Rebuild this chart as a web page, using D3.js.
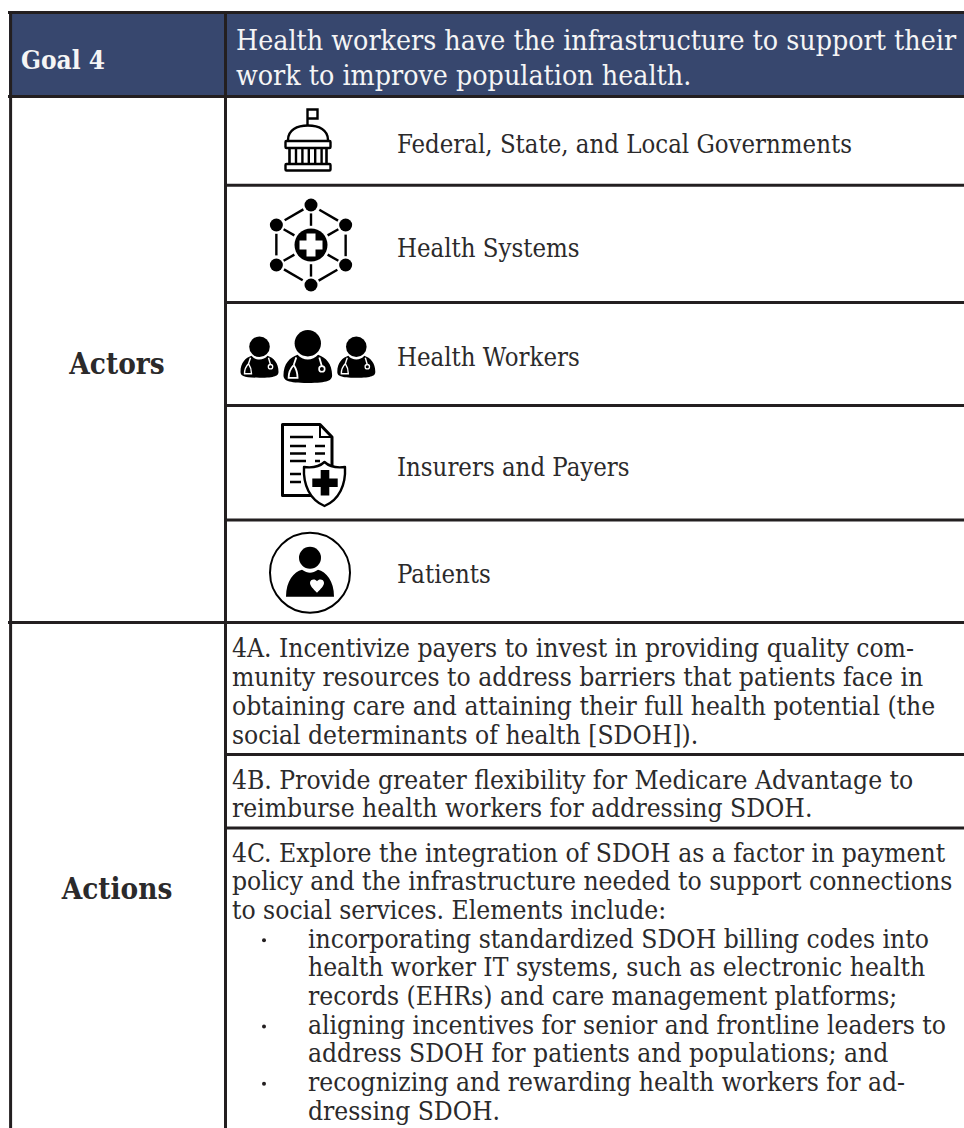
<!DOCTYPE html>
<html><head><meta charset="utf-8"><style>html,body{margin:0;background:#fff}svg{display:block}</style>
<script src="https://cdnjs.cloudflare.com/ajax/libs/d3/7.8.5/d3.min.js"></script></head><body><div id="c"></div>
<script>
const goalLabel = "Goal 4";
const goalText = ["Health workers have the infrastructure to support their","work to improve population health."];
const actors = ["Federal, State, and Local Governments","Health Systems","Health Workers","Insurers and Payers","Patients"];
const sectionLabels = ["Actors","Actions"];
const actionA = ["4A. Incentivize payers to invest in providing quality com-","munity resources to address barriers that patients face in","obtaining care and attaining their full health potential (the","social determinants of health [SDOH])."];
const actionB = ["4B. Provide greater flexibility for Medicare Advantage to","reimburse health workers for addressing SDOH."];
const actionC = ["4C. Explore the integration of SDOH as a factor in payment","policy and the infrastructure needed to support connections","to social services. Elements include:"];
const bullets = [["incorporating standardized SDOH billing codes into","health worker IT systems, such as electronic health","records (EHRs) and care management platforms;"],["aligning incentives for senior and frontline leaders to","address SDOH for patients and populations; and"],["recognizing and rewarding health workers for ad-","dressing SDOH."]];

const W=964,H=1128,INK="#231f20",TXT="#2b2a2b",NAVY="#37476e",FONT="'DejaVu Serif Condensed','DejaVu Serif',serif";
const svg=d3.select("#c").append("svg").attr("width",W).attr("height",H).attr("viewBox",`0 0 ${W} ${H}`);
svg.append("rect").attr("x",9).attr("y",13).attr("width",W-9).attr("height",84).attr("fill",NAVY);

const line=(x1,y1,x2,y2)=>svg.append("line").attr("x1",x1).attr("y1",y1).attr("x2",x2).attr("y2",y2).attr("stroke",INK).attr("stroke-width",3);
line(8,12.5,W,12.5); line(8,96.5,W,96.5);
line(10.6,12,10.6,H); line(225.5,12,225.5,H);
[185.3,302.5,405.5,520,622.5,754.5,828].forEach((y,i)=>line(i===4?8:225,y,W,y));

function text(x,y,s,o={}){
  return svg.append("text").attr("x",x).attr("y",y).text(s)
   .attr("font-family",FONT).attr("font-size",o.size||26.2).attr("font-weight",o.bold?700:400)
   .attr("fill",o.fill||TXT).attr("text-anchor",o.anchor||"start");
}
text(21,69,goalLabel,{size:26,bold:true,fill:"#f5f5f5"});
goalText.forEach((s,i)=>text(236,50+i*35,s,{size:28.3,fill:"#f5f5f5"}));
text(117,374,sectionLabels[0],{size:29.4,bold:true,anchor:"middle"});
text(117,899,sectionLabels[1],{size:29.4,bold:true,anchor:"middle"});
const actorY=[153,257,366,476,583];
actors.forEach((s,i)=>text(397,actorY[i],s,{size:25.5}));
const LH=28.7;
actionA.forEach((s,i)=>text(232,657+i*29,s));
actionB.forEach((s,i)=>text(232,789+i*28,s));
actionC.forEach((s,i)=>text(232,861.5+i*LH,s));
let k=3;
bullets.forEach(b=>b.forEach((s,j)=>{const y=861.5+k*LH; if(j===0)svg.append("circle").attr("cx",264).attr("cy",y-7.3).attr("r",2).attr("fill",INK); text(308,y,s); k++;}));

// Icons
const K="#000";
(function(){const g=svg.append("g").attr("fill","none").attr("stroke",K).attr("stroke-width",2.4);
 g.append("path").attr("d","M307.5 126V109.5H317.5V118.5H307.5");
 g.append("path").attr("d","M288 140C288 130 297 125.5 308 125.5C319 125.5 328 130 328 140");
 g.append("rect").attr("x",285.5).attr("y",141).attr("width",45).attr("height",7).attr("rx",1);
 g.append("rect").attr("x",285.5).attr("y",164).attr("width",45).attr("height",6.5).attr("rx",1);
 g.append("path").attr("d","M289.5 148V164M326.5 148V164").attr("stroke-width",2.6);
 d3.range(5).forEach(i=>g.append("line").attr("x1",296+i*6.4).attr("x2",296+i*6.4).attr("y1",149).attr("y2",163));
})();
(function(){const c=[311,245],g=svg.append("g").attr("transform",`translate(${c})`);
 const R=40,pts=d3.range(6).map(i=>{const a=-Math.PI/2+i*Math.PI/3;return [R*Math.cos(a),R*Math.sin(a)]});
 pts.forEach((p,i)=>{g.append("circle").attr("cx",p[0]).attr("cy",p[1]).attr("r",6.5).attr("fill",K);
  const q=pts[(i+1)%6];const m=t=>[p[0]+(q[0]-p[0])*t,p[1]+(q[1]-p[1])*t];
  const a=m(.24),b=m(.78);g.append("line").attr("x1",a[0]).attr("y1",a[1]).attr("x2",b[0]).attr("y2",b[1]).attr("stroke",K).attr("stroke-width",2.4);
  const s=[p[0]*.48,p[1]*.48],e=[p[0]*.79,p[1]*.79];g.append("line").attr("x1",s[0]).attr("y1",s[1]).attr("x2",e[0]).attr("y2",e[1]).attr("stroke",K).attr("stroke-width",2.4);});
 g.append("circle").attr("r",16.5).attr("fill",K);
 g.append("path").attr("d","M-4.5 -11.5H4.5V-4.5H11.5V4.5H4.5V11.5H-4.5V4.5H-11.5V-4.5H-4.5Z").attr("fill","#fff");
})();
function worker(cx,topY,s){const g=svg.append("g").attr("transform",`translate(${cx},${topY}) scale(${s})`);
 g.append("circle").attr("cy",0).attr("r",10.3).attr("fill",K);
 g.append("path").attr("d","M-8 9C-14 11 -19 16 -19 25C-19 29 -16 31 0 31C16 31 19 29 19 25C19 16 14 11 8 9C4 14 -4 14 -8 9Z").attr("fill",K);
 g.append("path").attr("d","M-9 11L-11 17M-11 17C-14 20 -15 23 -15 27H-8C-8 23 -9 20 -11 17M9 11L11 18").attr("fill","none").attr("stroke","#fff").attr("stroke-width",1.4);
 g.append("circle").attr("cx",11).attr("cy",20).attr("r",2.2).attr("fill",K).attr("stroke","#fff").attr("stroke-width",1.3);
}
worker(259.5,346.7,1); worker(307.8,343.3,1.28); worker(356.3,346.7,1);
(function(){const g=svg.append("g");
 g.append("path").attr("d","M282.5 424.5H320L332 437V495.5H282.5Z").attr("fill","none").attr("stroke",K).attr("stroke-width",3).attr("stroke-linejoin","round");
 g.append("path").attr("d","M320 424.5V437H332").attr("fill","none").attr("stroke",K).attr("stroke-width",2);
 g.append("path").attr("d","M290 437H313M290 446H306M290 453.5H306M290 461H306M315 446H325M315 453.5H325M315 461H320M290 474H301M290 482H301").attr("stroke",K).attr("stroke-width",2.6);
 g.append("path").attr("d","M324.5 462C331 468 338 468 345 467C346 485 339 500 324.5 506C310 500 303 485 304 467C311 468 318 468 324.5 462Z").attr("fill","#fff").attr("stroke",K).attr("stroke-width",2.4).attr("stroke-linejoin","round");
 g.append("path").attr("d","M320.7 470H329.3V478.5H337.7V487H329.3V495.5H320.7V487H312.3V478.5H320.7Z").attr("fill",K);
})();
(function(){const g=svg.append("g").attr("transform","translate(310,572.7)");
 g.append("circle").attr("r",40).attr("fill","none").attr("stroke",K).attr("stroke-width",2);
 g.append("circle").attr("cy",-15).attr("r",11).attr("fill",K);
 g.append("path").attr("d","M-24 24C-24 8 -16 -1 -8 -3C-2 1 2 1 8 -3C16 -1 24 8 24 24Z").attr("fill",K);
 g.append("path").attr("d","M7 20C3 16 0 13 0 10C0 6.5 5 5.5 7 8.5C9 5.5 14 6.5 14 10C14 13 11 16 7 20Z").attr("fill","#fff");
})();
</script></body></html>
